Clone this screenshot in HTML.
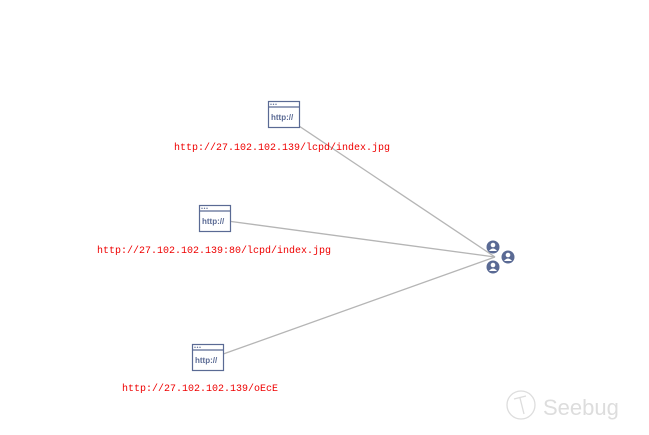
<!DOCTYPE html>
<html><head><meta charset="utf-8"><style>
html,body{margin:0;padding:0;background:#fff;width:649px;height:435px;overflow:hidden}
.t{position:absolute;font-family:"Liberation Mono",monospace;font-size:10px;color:#e00;line-height:12px;white-space:nowrap}
</style></head><body>
<svg width="649" height="435" style="position:absolute;left:0;top:0">
<g stroke="#b5b5b5" stroke-width="1.3" fill="none">
<line x1="290" y1="120" x2="495" y2="257"/>
<line x1="220" y1="220" x2="495" y2="257"/>
<line x1="212" y1="358" x2="495" y2="257"/>
</g>
<defs>
<g id="b">
<rect x="0.5" y="0.5" width="31" height="26" fill="#fff" stroke="#5a6a94" stroke-width="1.2"/>
<line x1="0.5" y1="6" x2="31.5" y2="6" stroke="#5a6a94" stroke-width="1.2"/>
<circle cx="3" cy="3.3" r="0.7" fill="#5a6a94"/><circle cx="5.5" cy="3.3" r="0.7" fill="#5a6a94"/><circle cx="8" cy="3.3" r="0.7" fill="#5a6a94"/>
<text x="3" y="19" font-family="Liberation Sans,sans-serif" font-size="8" font-weight="bold" fill="#5a6a94">http://</text>
</g>
<g id="p">
<circle r="6.5" fill="#5a6a94"/>
<circle cy="-2" r="2.3" fill="#fff"/>
<path d="M-4,4 Q0,-1 4,4 Z" fill="#fff"/>
</g>
</defs>
<use href="#b" x="268" y="101"/>
<use href="#b" x="199" y="205"/>
<use href="#b" x="192" y="344"/>
<use href="#p" x="493" y="247"/>
<use href="#p" x="508" y="257"/>
<use href="#p" x="493" y="267"/>
<g stroke="#ddd" fill="none" stroke-width="1.3">
<circle cx="521" cy="405" r="14"/>
<path d="M514,399 L526,396 M520,398 L524,414"/>
</g>
<text x="543" y="415" font-family="Liberation Sans,sans-serif" font-size="22" fill="#ddd">Seebug</text>
</svg>
<div class="t" style="left:174px;top:143px">http://27.102.102.139/lcpd/index.jpg</div>
<div class="t" style="left:97px;top:246px">http://27.102.102.139:80/lcpd/index.jpg</div>
<div class="t" style="left:122px;top:384px">http://27.102.102.139/oEcE</div>
</body></html>
